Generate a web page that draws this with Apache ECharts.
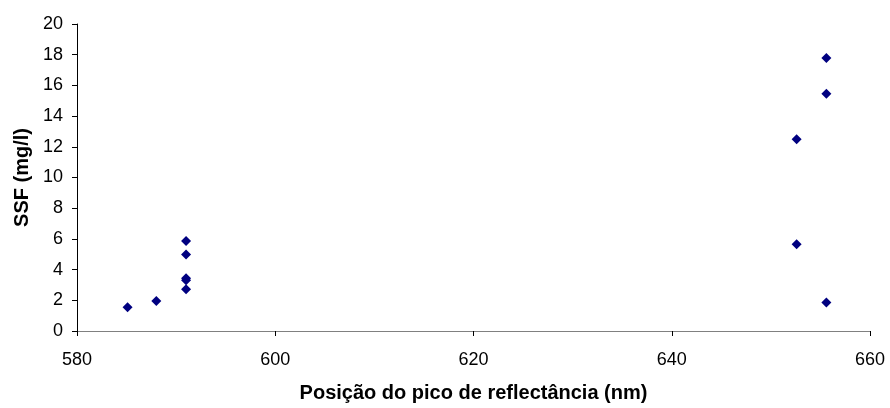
<!DOCTYPE html>
<html>
<head>
<meta charset="utf-8">
<script src="https://cdn.jsdelivr.net/npm/echarts@6/dist/echarts.min.js"></script>
<style>html,body{margin:0;padding:0;background:#fff}#c{width:890px;height:408px}</style>
</head>
<body>
<div id="c"></div>
<script>
var xName = 'Posição do pico de reflectância (nm)';
var yName = 'SSF (mg/l)';
var peakPos = [585.1, 588.0, 591.0, 591.0, 591.0, 591.0, 591.0, 652.6, 652.6, 655.6, 655.6, 655.6];
var ssf     = [1.55,  1.96,  5.87,  4.98,  3.43,  3.3,   2.72,  12.49, 5.65,  17.78, 15.45, 1.86];

var pts = peakPos.map(function (x, i) { return [x, ssf[i]]; });
var chart = echarts.init(document.getElementById('c'));
var font = 'Liberation Sans, Arial, sans-serif';
chart.setOption({
  animation: false,
  grid: { left: 77, right: 20, top: 24, bottom: 75, containLabel: false },
  xAxis: {
    type: 'value', min: 580, max: 660, interval: 20,
    name: xName, nameLocation: 'middle', nameGap: 52,
    nameTextStyle: { fontFamily: font, fontSize: 20, fontWeight: 'bold', color: '#000' },
    axisLine: { lineStyle: { color: '#808080', width: 1 } },
    axisTick: { show: true, inside: false, length: 5, lineStyle: { color: '#000' } },
    axisLabel: { fontFamily: font, fontSize: 18, color: '#000', margin: 20 },
    splitLine: { show: false }
  },
  yAxis: {
    type: 'value', min: 0, max: 20, interval: 2,
    name: yName, nameLocation: 'middle', nameGap: 44,
    nameTextStyle: { fontFamily: font, fontSize: 20, fontWeight: 'bold', color: '#000' },
    axisLine: { show: true, lineStyle: { color: '#000', width: 1 } },
    axisTick: { show: true, inside: false, length: 5, lineStyle: { color: '#000' } },
    axisLabel: { fontFamily: font, fontSize: 18, color: '#000', margin: 14 },
    splitLine: { show: false }
  },
  series: [{
    type: 'scatter',
    data: pts,
    symbol: 'diamond',
    symbolSize: 10,
    itemStyle: { color: '#000080', opacity: 1 }
  }]
});
</script>
</body>
</html>
